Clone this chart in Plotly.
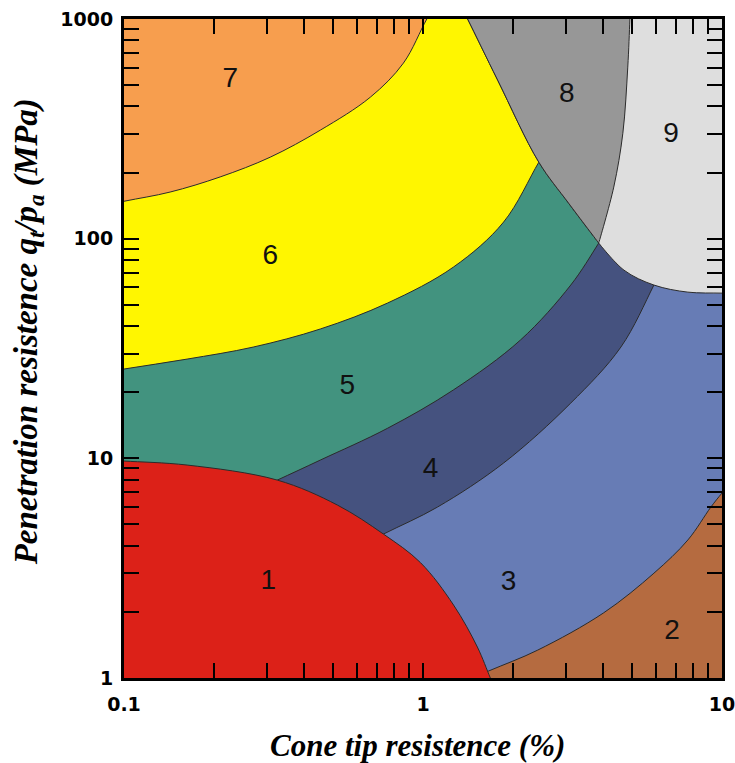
import plotly.graph_objects as go

# Zone boundaries: friction-ratio (%) on x, normalised tip resistance on y.
# Each curve carries one extra point past its visible end so that the filled
# regions close outside the frame or underneath a zone that is drawn later.
b32_x = [1.136, 1.657, 2.42, 4.02, 5.92, 7.69, 9.18, 10.0, 12.0]
b32_y = [0.864, 1.076, 1.34, 1.98, 3.0, 4.25, 6.0, 6.95, 9.3]

b43_x = [0.49, 0.7375, 1.118, 1.86, 3.12, 4.59, 5.92, 6.75]
b43_y = [3.4, 4.52, 6.0, 9.52, 17.85, 32.1, 61.5, 88.7]

b54_x = [0.2446, 0.3256, 0.4535, 0.7606, 1.265, 2.12, 3.12, 3.87, 4.415]
b54_y = [6.67, 7.96, 9.82, 13.7, 20.5, 34.6, 61.5, 95.5, 128]

b65_x = [0.063, 0.1, 0.1626, 0.2705, 0.4535, 0.7606, 1.265, 1.86, 2.44, 2.78]
b65_y = [23.0, 25.5, 28.3, 32.1, 38.8, 50.9, 74.3, 119, 223, 299]

b76_x = [0.0718, 0.1, 0.1426, 0.2097, 0.3084, 0.4537, 0.667, 0.860, 1.03, 1.144]
b76_y = [135, 148, 163, 191, 235, 312, 441, 630, 1000, 1258]

b68_x = [1.305, 1.41, 1.777, 2.44, 3.07, 3.87]
b68_y = [1232, 1000, 527, 223, 145, 95.5]

b89_x = [3.87, 4.345, 4.66, 4.84, 4.92, 4.955]
b89_y = [95.5, 171.7, 302, 604, 1000, 1285]

b9_x = [3.87, 4.70, 5.92, 7.69, 10.0, 12.0]
b9_y = [95.5, 71.9, 61.5, 57.1, 56.5, 56.0]

b1_x = [0.0831, 0.1, 0.1626, 0.3256, 0.517, 0.7375, 0.981, 1.265, 1.52, 1.68, 1.763]
b1_y = [9.87, 9.72, 9.32, 7.96, 6.13, 4.52, 3.35, 2.15, 1.384, 1.0, 0.864]

# Zone numbers and where they are written
zone_labels = ["1", "2", "3", "4", "5", "6", "7", "8", "9"]
label_x = [0.3037, 6.80, 1.934, 1.06, 0.5587, 0.3084, 0.2265, 3.025, 6.75]
label_y = [2.735, 1.62, 2.71, 8.85, 21.1, 82.5, 527, 450, 296]

# Axis ticks
x_ticks = [0.1, 1, 10]
y_ticks = [1, 10, 100, 1000]
x_minor = [m * d for d in (0.1, 1) for m in range(2, 10)]
y_minor = [m * d for d in (1, 10, 100) for m in range(2, 10)]

# Far-outside corners used to close the filled regions
LO_X, HI_X, LO_Y, HI_Y = 0.05, 14.0, 0.5, 3000.0

COLORS = {
    "1": "#DC2118",
    "2": "#B56B40",
    "3": "#677CB5",
    "4": "#45527F",
    "5": "#42937F",
    "6": "#FFF600",
    "7": "#F79E4E",
    "8": "#979797",
    "9": "#DEDEDE",
}
EDGE = "#2b2b2b"

fig = go.Figure()


def region(xs, ys, color, shape="spline"):
    fig.add_trace(go.Scatter(
        x=xs, y=ys, mode="lines", fill="toself", fillcolor=color,
        line=dict(color=EDGE, width=1, shape=shape, simplify=False, smoothing=1),
        hoverinfo="skip", showlegend=False,
    ))


# zone 2: background of the whole frame
region([LO_X, HI_X, HI_X, LO_X], [LO_Y, LO_Y, HI_Y, HI_Y], COLORS["2"], shape="linear")
# zone 3: everything above the 3/2 boundary
region([LO_X] + b32_x + [HI_X, LO_X], [LO_Y] + b32_y + [HI_Y, HI_Y], COLORS["3"])
# zone 4: above the 4/3 boundary
region([LO_X] + b43_x + [12.0, HI_X, LO_X], [b43_y[0]] + b43_y + [300, HI_Y, HI_Y], COLORS["4"])
# zone 5: above the 5/4 boundary
region([LO_X] + b54_x + [5.0, LO_X], [b54_y[0]] + b54_y + [HI_Y, HI_Y], COLORS["5"])
# zone 6: above the 6/5 boundary
region([0.04] + b65_x + [3.0, 0.04], [b65_y[0]] + b65_y + [HI_Y, HI_Y], COLORS["6"])
# zone 7: above the 7/6 boundary
region([0.04] + b76_x + [1.2, 0.04], [b76_y[0]] + b76_y + [HI_Y, HI_Y], COLORS["7"])
# zone 9: right of the 8 wedge, above its lower boundary
region(b68_x + b9_x + [HI_X, HI_X, b68_x[0]], b68_y + b9_y + [56.0, HI_Y, HI_Y], COLORS["9"])
# zone 8: wedge between the 6/5 side and the 9 side
region(b68_x + b89_x, b68_y + b89_y, COLORS["8"])
# zone 1: lower-left dome
region(b1_x + [1.8, LO_X, LO_X], b1_y + [LO_Y, LO_Y, b1_y[0]], COLORS["1"])

fig.add_trace(go.Scatter(
    x=label_x, y=label_y, mode="text", text=zone_labels,
    textfont=dict(family="Liberation Sans", size=28, color="#111111"),
    hoverinfo="skip", showlegend=False,
))

tick_font = dict(family="DejaVu Sans", size=19, color="black", weight="bold")
axis_common = dict(
    type="log", ticks="inside", ticklen=15, tickwidth=1.5, tickcolor="black",
    showline=True, linecolor="black", linewidth=3, mirror="ticks",
    showgrid=False, zeroline=False, tickfont=tick_font, automargin=False,
    ticklabeloverflow="allow",
)

fig.update_xaxes(
    range=[-1, 1], tickvals=x_ticks, ticktext=["0.1", "1", "10"],
    minor=dict(tickvals=x_minor, ticks="inside", ticklen=15, tickwidth=1.5,
               tickcolor="black", showgrid=False),
    ticklabelstandoff=7, **axis_common,
)
fig.update_yaxes(
    range=[0, 3], tickvals=y_ticks, ticktext=["1", "10", "100", "1000"],
    minor=dict(tickvals=y_minor, ticks="inside", ticklen=15, tickwidth=1.5,
               tickcolor="black", showgrid=False),
    ticklabelstandoff=4, **axis_common,
)

x_title_font = dict(family="Liberation Serif", size=31, color="black",
                    weight="bold", style="italic")
y_title_font = dict(family="Liberation Serif", size=33, color="black",
                    weight="bold", style="italic")
fig.update_layout(
    width=735, height=763,
    margin=dict(l=124, r=13, t=19, b=85),
    paper_bgcolor="white", plot_bgcolor="white",
    showlegend=False,
    annotations=[
        dict(text="Cone tip resistence (%)", xref="paper", yref="paper",
             x=0.4916, y=-0.1017, xanchor="center", yanchor="middle",
             showarrow=False, font=x_title_font),
        dict(text="Penetration resistence q<sub>t</sub>/p<sub>a</sub> (MPa)",
             xref="paper", yref="paper", x=-0.16, y=0.525,
             xanchor="center", yanchor="middle", textangle=-90,
             showarrow=False, font=y_title_font),
    ],
)

fig.write_html("out.html")
